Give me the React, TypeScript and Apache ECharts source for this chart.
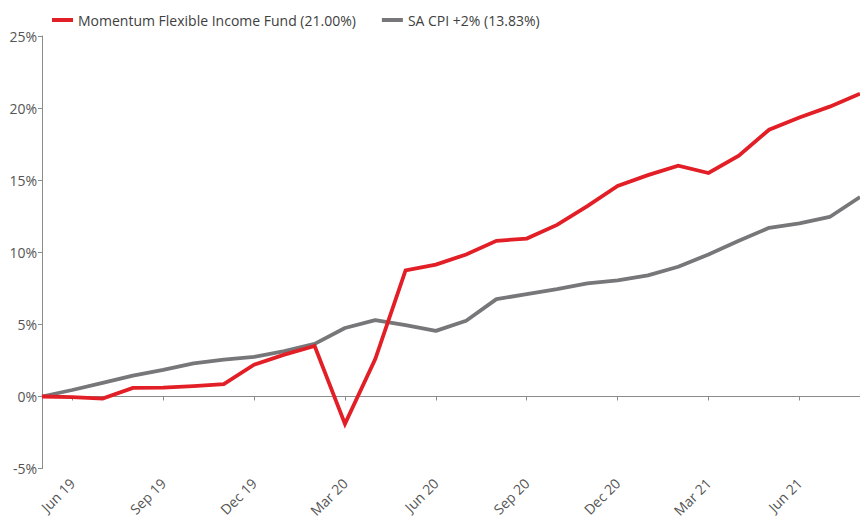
import React, { useEffect, useRef } from "react";
import * as echarts from "echarts";

const categories = [
  "May 19", "Jun 19", "Jul 19", "Aug 19", "Sep 19", "Oct 19", "Nov 19", "Dec 19",
  "Jan 20", "Feb 20", "Mar 20", "Apr 20", "May 20", "Jun 20", "Jul 20", "Aug 20",
  "Sep 20", "Oct 20", "Nov 20", "Dec 20", "Jan 21", "Feb 21", "Mar 21", "Apr 21",
  "May 21", "Jun 21", "Jul 21", "Aug 21",
];

const fundName = "Momentum Flexible Income Fund (21.00%)";
const cpiName = "SA CPI +2% (13.83%)";

const fundValues = [
  0, -0.05, -0.15, 0.6, 0.62, 0.72, 0.86, 2.2, 2.9, 3.5, -1.9, 2.6, 8.75, 9.15,
  9.85, 10.8, 10.95, 11.9, 13.2, 14.6, 15.35, 16.0, 15.5, 16.7, 18.5, 19.35, 20.1, 21.0,
];

const cpiValues = [
  0, 0.45, 0.95, 1.45, 1.85, 2.3, 2.55, 2.75, 3.15, 3.65, 4.75, 5.3, 4.95, 4.55,
  5.25, 6.75, 7.1, 7.45, 7.85, 8.05, 8.4, 9.0, 9.85, 10.8, 11.7, 12.0, 12.45, 13.83,
];

const yTicks = [-5, 0, 5, 10, 15, 20, 25];

const FONT = "'Open Sans', sans-serif";
const RED = "#e21f26";
const GRAY = "#77777a";
const AXIS = "#8c8c8c";
const TEXT = "#555555";

const showTick = (i: number) => (i - 1) % 3 === 0;

export default function App() {
  const ref = useRef<HTMLDivElement>(null);
  useEffect(() => {
    document.body.style.margin = "0";
    const chart = echarts.init(ref.current!, null, { renderer: "svg" });
    chart.setOption({
      animation: false,
      textStyle: { fontFamily: FONT },
      legend: {
        top: 8,
        left: 47,
        itemWidth: 21,
        itemHeight: 4,
        itemGap: 26,
        icon: "rect",
        textStyle: { fontFamily: FONT, fontSize: 14, color: "#404040" },
        data: [fundName, cpiName],
      },
      grid: { left: 42, right: 0, top: 36, bottom: 46, containLabel: false },
      xAxis: [
        {
          type: "category",
          data: categories,
          boundaryGap: false,
          axisLine: { show: true, onZero: true, lineStyle: { color: AXIS, width: 1 } },
          axisTick: { show: true, length: 4, interval: (i: number) => showTick(i), lineStyle: { color: AXIS } },
          axisLabel: { show: false },
          splitLine: { show: false },
        },
        {
          type: "category",
          data: categories,
          boundaryGap: false,
          position: "bottom",
          axisLine: { show: false, onZero: false },
          axisTick: { show: false },
          axisLabel: {
            show: true,
            interval: (i: number) => showTick(i),
            rotate: 45,
            margin: 12,
            fontFamily: FONT,
            fontSize: 14,
            color: TEXT,
          },
          splitLine: { show: false },
        },
      ],
      yAxis: {
        type: "value",
        min: yTicks[0],
        max: yTicks[yTicks.length - 1],
        interval: 5,
        axisLine: { show: true, lineStyle: { color: AXIS, width: 1 } },
        axisTick: { show: true, length: 4, lineStyle: { color: AXIS } },
        axisLabel: {
          margin: 5,
          fontFamily: FONT,
          fontSize: 14,
          color: TEXT,
          formatter: (v: number) => `${v}%`,
        },
        splitLine: { show: false },
      },
      series: [
        {
          name: fundName,
          type: "line",
          xAxisIndex: 0,
          data: fundValues,
          symbol: "none",
          lineStyle: { color: RED, width: 3.8, join: "miter" },
          itemStyle: { color: RED },
          z: 3,
        },
        {
          name: cpiName,
          type: "line",
          xAxisIndex: 0,
          data: cpiValues,
          symbol: "none",
          lineStyle: { color: GRAY, width: 3.8 },
          itemStyle: { color: GRAY },
          z: 2,
        },
      ],
    });
    return () => chart.dispose();
  }, []);
  return <div ref={ref} style={{ width: 860, height: 520 }} />;
}
